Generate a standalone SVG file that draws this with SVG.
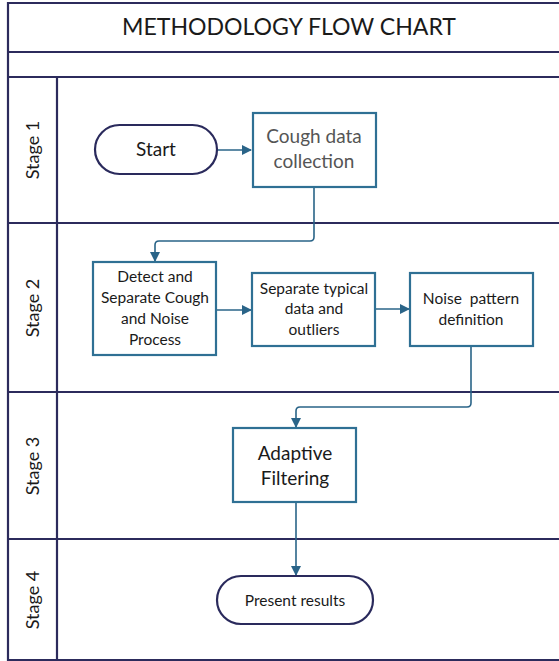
<svg xmlns="http://www.w3.org/2000/svg" width="559" height="661" viewBox="0 0 559 661">
<defs>
<marker id="arr" markerWidth="10" markerHeight="10" refX="9" refY="5" orient="auto" markerUnits="userSpaceOnUse">
<path d="M0,0 L10,5 L0,10 Z" fill="#2a6488"/>
</marker>
<style>
.frame{fill:none;stroke:#2c2b5c;stroke-width:2.2}
.box{fill:#fff;stroke:#2f7094;stroke-width:2.2}
.term{fill:#fff;stroke:#2a2a5c;stroke-width:2.2}
.conn{fill:none;stroke:#2a6488;stroke-width:1.6}
text{font-family:Lato,"Open Sans","Liberation Sans",sans-serif;fill:#1a1a1a;text-anchor:middle}
.lane{font-size:18px}
.t14{font-size:15.5px}
.t18{font-size:19px}
</style>
</defs>
<rect x="0" y="0" width="559" height="661" fill="#fff"/>
<g id="frame">
<path class="frame" d="M559,3 H8 V660 H559 M8,52 H559 M8,77 H559 M8,223 H559 M8,392 H559 M8,539 H559 M57,77 V660"/>
<text x="289" y="35" style="font-size:24px" textLength="334" lengthAdjust="spacingAndGlyphs">METHODOLOGY FLOW CHART</text>
<text class="lane" transform="translate(39,150) rotate(-90)">Stage 1</text>
<text class="lane" transform="translate(39,308) rotate(-90)">Stage 2</text>
<text class="lane" transform="translate(39,466) rotate(-90)">Stage 3</text>
<text class="lane" transform="translate(39,600) rotate(-90)">Stage 4</text>
</g>
<g id="connectors">
<path class="conn" d="M217,150 H251" marker-end="url(#arr)"/>
<path class="conn" d="M314,187 V237 Q314,241 310,241 H159 Q155,241 155,245 V261" marker-end="url(#arr)"/>
<path class="conn" d="M216,310 H251" marker-end="url(#arr)"/>
<path class="conn" d="M375,309 H409" marker-end="url(#arr)"/>
<path class="conn" d="M471,346 V403 Q471,407 467,407 H300 Q296,407 296,411 V427" marker-end="url(#arr)"/>
<path class="conn" d="M296,502 V575" marker-end="url(#arr)"/>
</g>
<g id="start">
<rect class="term" x="95" y="125" width="122" height="49" rx="24.5"/>
<text class="t18" x="156" y="156">Start</text>
</g>
<g id="cough">
<rect class="box" x="253" y="113" width="123" height="74"/>
<text class="t18" x="314" y="143" style="fill:#555">Cough data</text>
<text class="t18" x="314" y="168" style="fill:#555">collection</text>
</g>
<g id="detect">
<rect class="box" x="93" y="262" width="123" height="93"/>
<text class="t14" x="155" y="282">Detect and</text>
<text class="t14" x="155" y="303">Separate Cough</text>
<text class="t14" x="155" y="324">and Noise</text>
<text class="t14" x="155" y="345">Process</text>
</g>
<g id="separate">
<rect class="box" x="252" y="273" width="123" height="73"/>
<text class="t14" x="314" y="294">Separate typical</text>
<text class="t14" x="314" y="314">data and</text>
<text class="t14" x="314" y="335">outliers</text>
</g>
<g id="noise">
<rect class="box" x="410" y="273" width="123" height="73"/>
<text class="t14" x="471" y="304" style="word-spacing:4px">Noise pattern</text>
<text class="t14" x="471" y="325">definition</text>
</g>
<g id="adaptive">
<rect class="box" x="233" y="428" width="123" height="74"/>
<text class="t18" x="295" y="460">Adaptive</text>
<text class="t18" x="295" y="485">Filtering</text>
</g>
<g id="present">
<rect class="term" x="217" y="576" width="156" height="48" rx="24"/>
<text class="t14" x="295" y="606">Present results</text>
</g>
</svg>
